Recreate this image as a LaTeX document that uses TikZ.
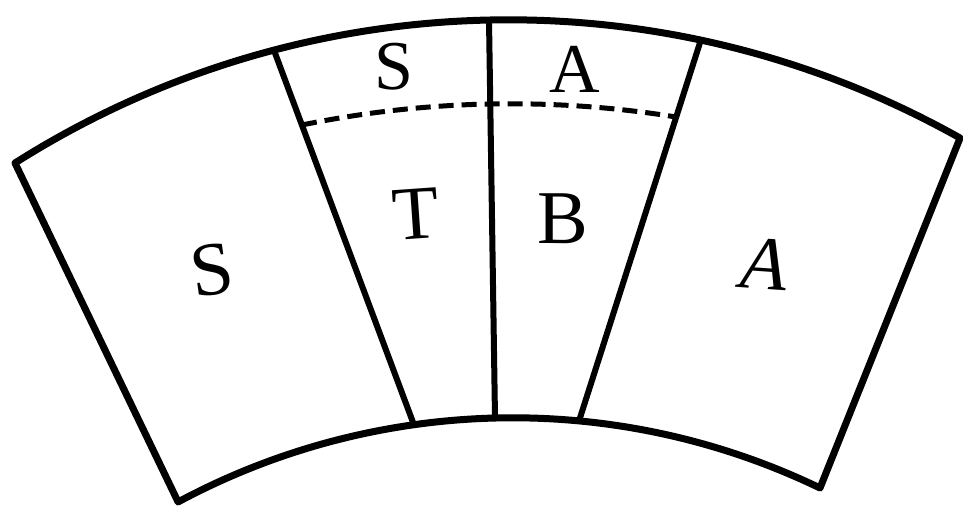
\documentclass[tikz,border=0pt]{standalone}
\usepackage{fontspec}
\setmainfont{Liberation Serif}
\begin{document}
\begin{tikzpicture}[x=1pt,y=-1pt,line join=round,
  outline/.style={line width=7pt},
  divider/.style={line width=6pt},
  dashline/.style={line width=5pt,dash pattern=on 15pt off 8pt},
  lab/.style={font=\fontsize{76}{84}\selectfont,inner sep=0pt},
  slab/.style={font=\fontsize{70}{78}\selectfont,inner sep=0pt}]
\useasboundingbox (0,0) rectangle (963,511);
% corners
\coordinate (ol) at (15,163);
\coordinate (or) at (960,138);
\coordinate (ir) at (820,488);
\coordinate (il) at (178,502);
% divider ends
\coordinate (lt) at (273.5,49);
\coordinate (lb) at (414,425);
\coordinate (mt) at (489,20);
\coordinate (mb) at (495,418);
\coordinate (rt) at (701,39.5);
\coordinate (rb) at (579,421);
\coordinate (dl) at (302,125);
% outline
\draw[outline] (ol) arc[start angle=-122.37,end angle=-60.66,radius=921.7]
  -- (ir) arc[start angle=-64.25,end angle=-118.24,radius=707.3] -- cycle;
% dividers
\draw[divider] (lt) -- (lb);
\draw[divider] (mt) -- (mb);
\draw[divider] (rt) -- (rb);
% dashed arc
\draw[dashline] (dl) arc[start angle=-101.61,end angle=-80.84,radius=1037.7];
% labels
\node[lab,rotate=8] (s1) at (212,270) {S};
\node[lab,rotate=4] (t) at (416,214) {T};
\node[lab] (b) at (563,219) {B};
\node[lab,rotate=-4] (a1) at (764,264) {\itshape A};
\node[slab] (s2) at (394,67) {S};
\node[slab] (a2) at (575,69) {A};
\end{tikzpicture}
\end{document}
